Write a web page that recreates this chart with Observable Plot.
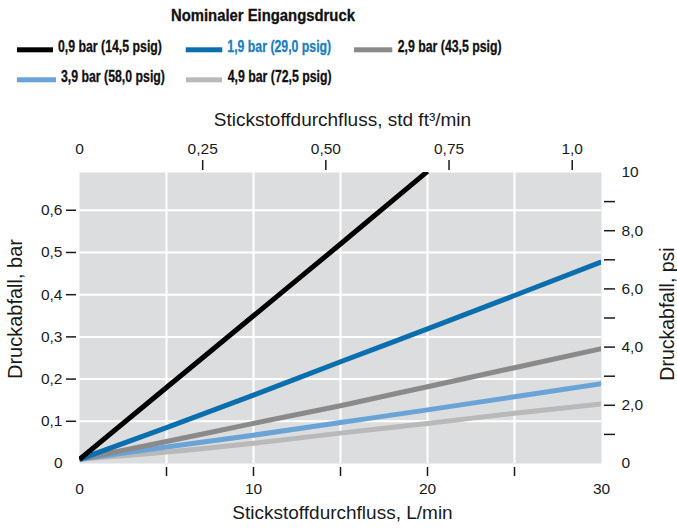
<!DOCTYPE html>
<html><head><meta charset="utf-8">
<script src="https://cdn.jsdelivr.net/npm/d3@7"></script>
<script src="https://cdn.jsdelivr.net/npm/@observablehq/plot@0.6"></script>
<style>
body{margin:0;background:#fff;font-family:"Liberation Sans",Arial,Helvetica,sans-serif;}
#wrap{width:677px;}
svg{display:block;}
</style></head><body>
<div id="wrap"><div id="legend"></div><div id="chart"></div></div>
<script>
// ---- data ----
const legendTitle = "Nominaler Eingangsdruck";
const seriesLabels = ["0,9 bar (14,5 psig)", "1,9 bar (29,0 psig)", "2,9 bar (43,5 psig)", "3,9 bar (58,0 psig)", "4,9 bar (72,5 psig)"];
const seriesColors = ["#000000", "#0b6fae", "#8a8a8a", "#6aa3d6", "#b9b9b9"];
const flowLmin = [0, 5, 10, 15, 20, 25, 30];
const drop09 = [0.010, 0.180, 0.350, 0.520, 0.692];
const drop19 = [0.010, 0.085, 0.162, 0.241, 0.319, 0.398, 0.478];
const drop29 = [0.010, 0.052, 0.095, 0.137, 0.182, 0.227, 0.272];
const drop39 = [0.010, 0.039, 0.067, 0.097, 0.127, 0.158, 0.189];
const drop49 = [0.010, 0.027, 0.048, 0.072, 0.095, 0.119, 0.141];
const seriesValues = [drop09, drop19, drop29, drop39, drop49];

const PSI_PER_BAR = 14.5038;
const FT3_PER_L = 0.0353147;
const xBottomMinorTicks = [5, 10, 15, 20, 25];
const xBottomLabels = [0, 10, 20, 30];
const xTopTicks = [0.25, 0.5, 0.75, 1.0];
const xTopTickLabels = ["0,25", "0,50", "0,75", "1,0"];
const yBarTicks = [0.1, 0.2, 0.3, 0.4, 0.5, 0.6];
const yBarTickLabels = ["0,1", "0,2", "0,3", "0,4", "0,5", "0,6"];
const yPsiTicks = [1, 2, 3, 4, 5, 6, 7, 8, 9];
const yPsiTickLabels = ["", "2,0", "", "4,0", "", "6,0", "", "8,0", ""];
const yPsiEndLabels = [0, 10];
const titleBottom = "Stickstoffdurchfluss, L/min";
const titleTop = "Stickstoffdurchfluss, std ft³/min";
const titleLeft = "Druckabfall, bar";
const titleRight = "Druckabfall, psi";

// ---- legend (above the svg) ----
const FONT = '"Liberation Sans", Arial, Helvetica, sans-serif';
const lg = d3.select("#legend").append("svg").attr("width", 677).attr("height", 100);
lg.append("text").attr("transform", "translate(171,20.7) scale(0.9,1.02)")
  .attr("font-family", FONT).attr("font-weight", "bold").attr("font-size", 16.5)
  .attr("fill", "#111").attr("stroke", "#111").attr("stroke-width", 0.3).text(legendTitle);
const legendPos = [
  {sx: 17, sw: 36, tx: 58, y: 52.3},
  {sx: 185.7, sw: 36.6, tx: 227.3, y: 52.3},
  {sx: 354, sw: 38.3, tx: 397.7, y: 52.3},
  {sx: 17, sw: 39, tx: 61, y: 82.3},
  {sx: 186, sw: 36, tx: 227.7, y: 82.3}
];
seriesLabels.forEach((lab, i) => {
  const p = legendPos[i];
  const col = i === 1 ? "#1a80c2" : "#111";
  lg.append("rect").attr("x", p.sx).attr("y", p.y - 5).attr("width", p.sw).attr("height", 5).attr("fill", seriesColors[i]);
  lg.append("text").attr("transform", `translate(${p.tx},${p.y}) scale(0.81,1.04)`)
    .attr("font-family", FONT).attr("font-weight", "bold").attr("font-size", 15.2)
    .attr("fill", col).attr("stroke", col).attr("stroke-width", 0.3).text(lab);
});

// ---- chart ----
const rows = [];
seriesValues.forEach((vals, s) => vals.forEach((v, j) => rows.push({series: seriesLabels[s], flow: flowLmin[j], drop: v})));
const drawOrder = [4, 3, 2, 1, 0];
const topMap = new Map(xTopTicks.map((v, i) => [v / FT3_PER_L, xTopTickLabels[i]]));
const barMap = new Map(yBarTicks.map((v, i) => [v, yBarTickLabels[i]]));
const psiMap = new Map(yPsiTicks.map((v, i) => [v / PSI_PER_BAR, yPsiTickLabels[i]]));

const chart = Plot.plot({
  width: 677, height: 428,
  marginLeft: 79, marginRight: 76, marginTop: 72, marginBottom: 65,
  x: {domain: [0, 30], label: null},
  y: {domain: [0, 10 / PSI_PER_BAR], label: null},
  color: {domain: seriesLabels, range: seriesColors},
  style: {fontFamily: FONT, fontSize: "15.5px", color: "#1a1a1a", background: "white", overflow: "visible"},
  marks: [
    Plot.frame({fill: "#dcdddf", stroke: null}),
    Plot.ruleX(xBottomMinorTicks, {stroke: "white", strokeWidth: 2}),
    Plot.ruleY(yBarTicks, {stroke: "white", strokeWidth: 2}),
    ...drawOrder.map(s => Plot.line(rows.filter(r => r.series === seriesLabels[s]), {
      x: "flow", y: "drop", stroke: "series", strokeWidth: 5, curve: "monotone-x", clip: "frame", strokeLinecap: "butt"
    })),
    // bottom axis
    Plot.axisX(xBottomMinorTicks, {anchor: "bottom", tickSize: 9, dy: 4, tickFormat: () => "", label: null, strokeWidth: 1.5}),
    Plot.axisX(xBottomLabels, {anchor: "bottom", tickSize: 0, tickPadding: 19, tickFormat: d => String(d), label: null}),
    // top axis
    Plot.axisX(xTopTicks.map(v => v / FT3_PER_L), {anchor: "top", tickSize: 10, dy: -3, tickPadding: 6, tickFormat: d => topMap.get(d), label: null, strokeWidth: 1.5}),
    Plot.axisX([0], {anchor: "top", tickSize: 0, dy: -3, tickPadding: 16, tickFormat: () => "0", label: null}),
    // left axis
    Plot.axisY(yBarTicks, {anchor: "left", tickSize: 10, dx: -3, tickPadding: 4, tickFormat: d => barMap.get(d), label: null, strokeWidth: 1.5}),
    Plot.axisY([0], {anchor: "left", tickSize: 0, dx: -3, tickPadding: 14, tickFormat: () => "0", label: null}),
    // right axis
    Plot.axisY(yPsiTicks.map(v => v / PSI_PER_BAR), {anchor: "right", tickSize: 11, dx: 2, tickPadding: 7, tickFormat: d => psiMap.get(d), label: null, strokeWidth: 1.5}),
    Plot.axisY(yPsiEndLabels.map(v => v / PSI_PER_BAR), {anchor: "right", tickSize: 0, dx: 2, tickPadding: 18, tickFormat: d => String(Math.round(d * PSI_PER_BAR)), label: null}),
    // axis titles
    Plot.text([titleBottom], {frameAnchor: "bottom", lineAnchor: "bottom", dx: 2, dy: 55, fontSize: 19}),
    Plot.text([titleTop], {frameAnchor: "top", lineAnchor: "bottom", dx: 2, dy: -47, fontSize: 19}),
    Plot.text([titleLeft], {frameAnchor: "left", textAnchor: "middle", lineAnchor: "bottom", rotate: -90, dx: -58, dy: -9, fontSize: 20}),
    Plot.text([titleRight], {frameAnchor: "right", textAnchor: "middle", lineAnchor: "bottom", rotate: -90, dx: 72.5, dy: -4, fontSize: 19.5})
  ]
});
document.getElementById("chart").appendChild(chart);
</script>
</body></html>
